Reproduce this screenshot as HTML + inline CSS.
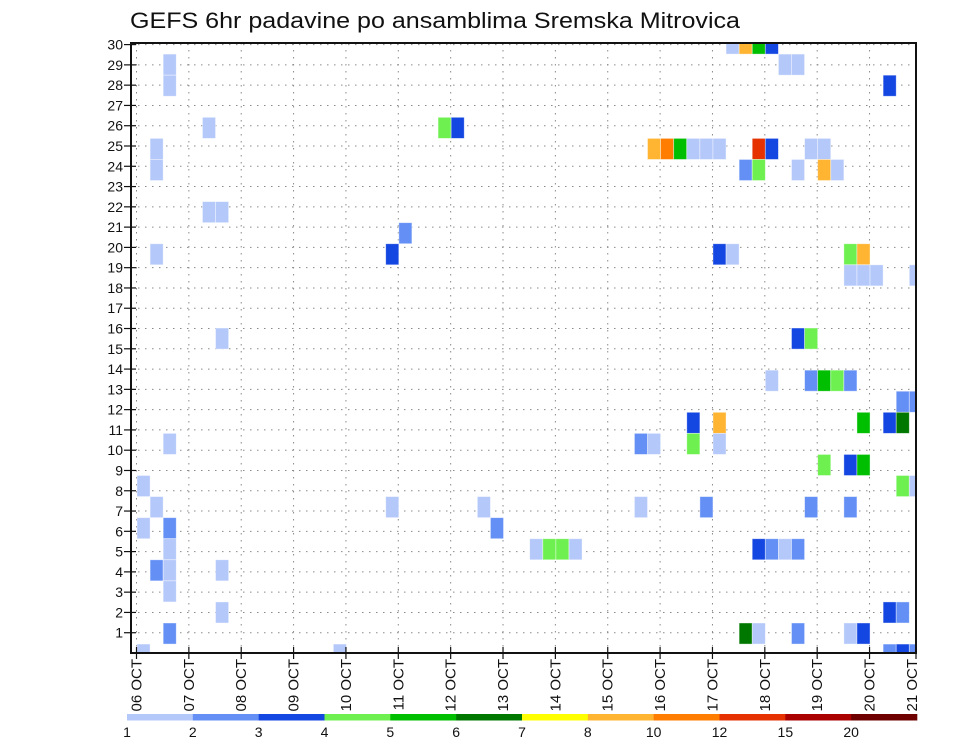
<!DOCTYPE html>
<html>
<head>
<meta charset="utf-8">
<style>
  html,body{margin:0;padding:0;background:#fff;}
  svg{display:block;font-family:"Liberation Sans","DejaVu Sans",sans-serif;}
</style>
</head>
<body>
<svg id="chart" width="960" height="742" viewBox="0 0 960 742" xmlns="http://www.w3.org/2000/svg">
  <rect x="0" y="0" width="960" height="742" fill="#fff"/>
  <text x="130" y="28" font-size="22" fill="#111" textLength="610" lengthAdjust="spacingAndGlyphs">GEFS 6hr padavine po ansamblima Sremska Mitrovica</text>
  <defs><clipPath id="plotClip"><rect x="131" y="43" width="785" height="610"/></clipPath></defs>
  <g id="grid"></g>
  <g id="cells" clip-path="url(#plotClip)"></g>
  <g id="axes"></g>
  <g id="colorbar"></g>
</svg>
<script>
// ---- data ----
const dayLabels = ["06","07","08","09","10","11","12","13","14","15","16","17","18","19","20","21"];
const memberTicks = [1,2,3,4,5,6,7,8,9,10,11,12,13,14,15,16,17,18,19,20,21,22,23,24,25,26,27,28,29,30];
const levelLabels = ["1","2","3","4","5","6","7","8","10","12","15","20"];
const levelColors = ["#b4c8fa","#6490f5","#1446e1","#6ef050","#00be00","#007800","#ffff00","#ffb432","#ff7d00","#e63200","#aa0000","#6e0000"];
// cell step index (6-hourly from 06 OCT 00Z)
const cellStep =   [45,46,47,48, 49,50,2, 57,2, 5,23,24, 1,39,40,41,42,43,44,47,48,51,52, 1,46,47,50,52,53, 5,6, 20, 1,19,44,45,54,55, 54,55,56,59, 6,50,51, 48,51,52,53,54, 58,59, 42,44,55,57,58, 2,38,39,42,44, 52,54,55, 0,58,59, 1,19,26,38,43,51,54, 0,2,27, 2,30,31,32,33,47,48,49,50, 1,2,6, 2, 6,57,58, 2,46,47,50,54,55, 0,15,57,58,59];
// ensemble member row
const cellMember = [29,29,29,29, 28,28,28, 27,27, 25,25,25, 24,24,24,24,24,24,24,24,24,24,24, 23,23,23,23,23,23, 21,21, 20, 19,19,19,19,19,19, 18,18,18,18, 15,15,15, 13,13,13,13,13, 12,12, 11,11,11,11,11, 10,10,10,10,10, 9,9,9, 8,8,8, 7,7,7,7,7,7,7, 6,6,6, 5,5,5,5,5,5,5,5,5, 4,4,4, 3, 2,2,2, 1,1,1,1,1,1, 0,0,0,0,0];
// precipitation class (index into levelColors)
const cellLevel =  [0,7,4,2, 0,0,0, 2,0, 0,3,2, 0,7,8,4,0,0,0,9,2,0,0, 0,1,3,0,7,0, 0,0, 1, 0,2,2,0,3,7, 0,0,0,0, 0,2,3, 0,1,4,3,1, 1,1, 2,7,4,2,5, 0,1,0,3,0, 3,2,4, 0,3,0, 0,0,0,0,1,1,1, 0,1,1, 0,0,3,3,0,2,1,0,1, 1,0,0, 0, 0,2,1, 1,5,0,1,0,2, 0,0,1,2,1];

// ---- axes functions ----
const PL=131, PR=916, PT=43, PB=653;
const X0=137, STEP=13.09;
function xStep(i){ return X0 + STEP*i; }
function xDay(d){ return 136.5 + 52.36*d; }
function yMember(k){ return 654.6 - 21.07*k; }  // cell centre
const CELLH = 21.07;
function yTick(n){ return PB - 20.28*n; }

const NS="http://www.w3.org/2000/svg";
function mk(tag, attrs, parent){
  const e=document.createElementNS(NS,tag);
  for(const k in attrs) e.setAttribute(k, attrs[k]);
  parent.appendChild(e); return e;
}
const grid=document.getElementById('grid');
const cells=document.getElementById('cells');
const axes=document.getElementById('axes');
const cbar=document.getElementById('colorbar');

// grid lines
memberTicks.forEach(function(n){
  const y=yTick(n);
  const l=mk('line',{x1:PL,x2:PR,y1:y,y2:y,stroke:'#8a8a8a','stroke-width':1,'stroke-dasharray':'1.5,5.5'},grid);
  
  
});
dayLabels.forEach(function(d,j){
  const x=xDay(j);
  if(x<=PL+2||x>=PR) return;
  const l=mk('line',{x1:x,x2:x,y1:PT,y2:PB,stroke:'#8a8a8a','stroke-width':1,'stroke-dasharray':'1.5,5.5'},grid);
  
  
});

// cells
for(let c=0;c<cellStep.length;c++){
  const x=xStep(cellStep[c]);
  const yc=yMember(cellMember[c]);
  const r=mk('rect',{x:x,y:yc-CELLH/2,width:STEP,height:CELLH,fill:levelColors[cellLevel[c]],stroke:'#ffffff','stroke-opacity':0.5,'stroke-width':0.8},cells);
  
  
}

// frame
const fr=mk('rect',{x:PL,y:PT,width:PR-PL,height:PB-PT,fill:'none',stroke:'#111','stroke-width':2},axes);



// y ticks & labels
memberTicks.forEach(function(n){
  const y=yTick(n);
  const t=mk('line',{x1:124,x2:136,y1:y,y2:y,stroke:'#111','stroke-width':1.2},axes);
  
  
  const tx=mk('text',{x:123,y:y+5,'font-size':14,'text-anchor':'end',fill:'#111'},axes);
  tx.textContent=String(n);
  
  
});

// x ticks & labels
dayLabels.forEach(function(d,j){
  let x=xDay(j);
  const t=mk('line',{x1:Math.min(x,PR),x2:Math.min(x,PR),y1:PB-6,y2:PB+6,stroke:'#111','stroke-width':1.2},axes);
  
  
  const lx=Math.min(x,912)+5;
  const tx=mk('text',{x:0,y:0,'font-size':15,'text-anchor':'end',fill:'#111',transform:'translate('+lx+',659) rotate(-90)'},axes);
  tx.textContent=d+' OCT';
  
  
});

// colorbar
const CB0=127, CBW=(917-127)/levelColors.length;
levelColors.forEach(function(col,j){
  const r=mk('rect',{x:CB0+CBW*j,y:714,width:CBW+0.3,height:6.5,fill:col},cbar);
  
  
});
levelLabels.forEach(function(lb,j){
  const tx=mk('text',{x:CB0+CBW*j,y:737,'font-size':14,'text-anchor':'middle',fill:'#111'},cbar);
  tx.textContent=lb;
  
  
});
</script>
</body>
</html>
